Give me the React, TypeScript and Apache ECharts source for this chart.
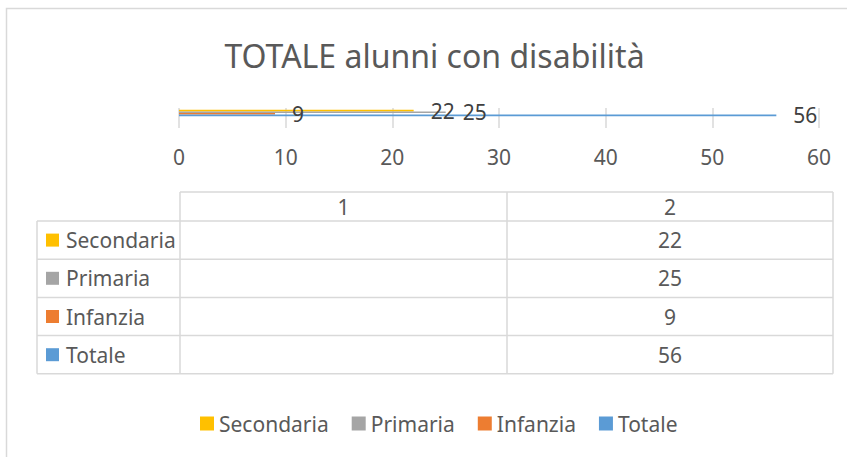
import React, { useEffect, useRef } from "react";
import * as echarts from "echarts";

const titleText = "TOTALE alunni con disabilità";
const categories = ["1", "2"];
const seriesNames = ["Secondaria", "Primaria", "Infanzia", "Totale"];
const secondaria: (number | null)[] = [null, 22];
const primaria: (number | null)[] = [null, 25];
const infanzia: (number | null)[] = [null, 9];
const totale: (number | null)[] = [null, 56];
const seriesColors = ["#FFC000", "#A5A5A5", "#ED7D31", "#5B9BD5"];
const axisMin = 0;
const axisMax = 60;
const axisInterval = 10;

const FONT = "'Noto Sans', 'Open Sans', sans-serif";
const TEXT_COLOR = "#595959";
const LINE_COLOR = "#d9d9d9";

export default function App() {
  const ref = useRef<HTMLDivElement>(null);

  useEffect(() => {
    if (!ref.current) return;
    const chart = echarts.init(ref.current, undefined, { renderer: "svg" });
    const values = [secondaria, primaria, infanzia, totale];

    // data table geometry
    const tableLeft = 37;
    const colEdges = [180, 507, 833];
    const headerTop = 192;
    const rowTop = 221;
    const rowH = 38.2;
    const tableBottom = rowTop + rowH * seriesNames.length;

    const graphics: any[] = [];
    // outer chart frame
    graphics.push({
      type: "rect",
      shape: { x: 6.5, y: 8.5, width: 1000, height: 600 },
      style: { fill: "none", stroke: LINE_COLOR, lineWidth: 1.5 },
      silent: true,
    });
    // title
    graphics.push({
      type: "text",
      x: 434.5,
      y: 55,
      style: {
        text: titleText,
        fontSize: 32,
        fontFamily: FONT,
        fill: TEXT_COLOR,
        align: "center",
        verticalAlign: "middle",
      },
    });
    const line = (x1: number, y1: number, x2: number, y2: number) => ({
      type: "line",
      shape: { x1, y1, x2, y2 },
      style: { stroke: LINE_COLOR, lineWidth: 1.5 },
      silent: true,
    });
    // header top line
    graphics.push(line(colEdges[0], headerTop, colEdges[colEdges.length - 1], headerTop));
    // vertical lines
    colEdges.forEach((x) => graphics.push(line(x, headerTop, x, tableBottom)));
    graphics.push(line(tableLeft, rowTop, tableLeft, tableBottom));
    // horizontal row lines
    for (let i = 0; i <= seriesNames.length; i++) {
      const y = rowTop + rowH * i;
      graphics.push(line(tableLeft, y, colEdges[colEdges.length - 1], y));
    }
    // header texts
    categories.forEach((c, ci) => {
      graphics.push({
        type: "text",
        x: (colEdges[ci] + colEdges[ci + 1]) / 2,
        y: (headerTop + rowTop) / 2,
        style: {
          text: c,
          fontSize: 21,
          fontFamily: FONT,
          fill: TEXT_COLOR,
          align: "center",
          verticalAlign: "middle",
        },
      });
    });
    // rows
    seriesNames.forEach((name, si) => {
      const cy = rowTop + rowH * si + rowH / 2;
      graphics.push({
        type: "rect",
        shape: { x: 46, y: cy - 6.5, width: 13, height: 13 },
        style: { fill: seriesColors[si] },
      });
      graphics.push({
        type: "text",
        x: 66,
        y: cy,
        style: {
          text: name,
          fontSize: 21,
          fontFamily: FONT,
          fill: TEXT_COLOR,
          align: "left",
          verticalAlign: "middle",
        },
      });
      categories.forEach((_, ci) => {
        const v = values[si][ci];
        if (v === null || v === undefined) return;
        graphics.push({
          type: "text",
          x: (colEdges[ci] + colEdges[ci + 1]) / 2,
          y: cy,
          style: {
            text: String(v),
            fontSize: 21,
            fontFamily: FONT,
            fill: TEXT_COLOR,
            align: "center",
            verticalAlign: "middle",
          },
        });
      });
    });

    chart.setOption({
      animation: false,
      backgroundColor: "#ffffff",
      textStyle: { fontFamily: FONT },
      grid: { left: 179, right: 28, top: 108, height: 20, containLabel: false },
      legend: {
        data: seriesNames,
        left: 200,
        top: 413,
        padding: 0,
        icon: "rect",
        itemWidth: 14,
        itemHeight: 14,
        itemGap: 23,
        textStyle: { fontSize: 21, color: TEXT_COLOR, fontFamily: FONT },
      },
      xAxis: {
        type: "value",
        min: axisMin,
        max: axisMax,
        interval: axisInterval,
        axisLine: { show: false },
        axisTick: { show: false },
        splitLine: { show: true, lineStyle: { color: LINE_COLOR, width: 1.5 } },
        axisLabel: { fontSize: 21, color: TEXT_COLOR, fontFamily: FONT, margin: 18 },
      },
      yAxis: {
        type: "category",
        data: categories,
        axisLine: { show: false },
        axisTick: { show: false },
        axisLabel: { show: false },
        splitLine: { show: false },
      },
      series: seriesNames.map((name, si) => ({
        name,
        type: "bar",
        data: values[si],
        barWidth: 1.6,
        barGap: "0%",
        itemStyle: { color: seriesColors[si] },
        label: {
          show: true,
          position: "right",
          distance: 17,
          fontSize: 21,
          color: "#404040",
          fontFamily: FONT,
        },
      })),
      graphic: graphics,
    });
    return () => chart.dispose();
  }, []);

  return (
    <div
      ref={ref}
      style={{ position: "absolute", left: 0, top: 0, width: 847, height: 457 }}
    />
  );
}
